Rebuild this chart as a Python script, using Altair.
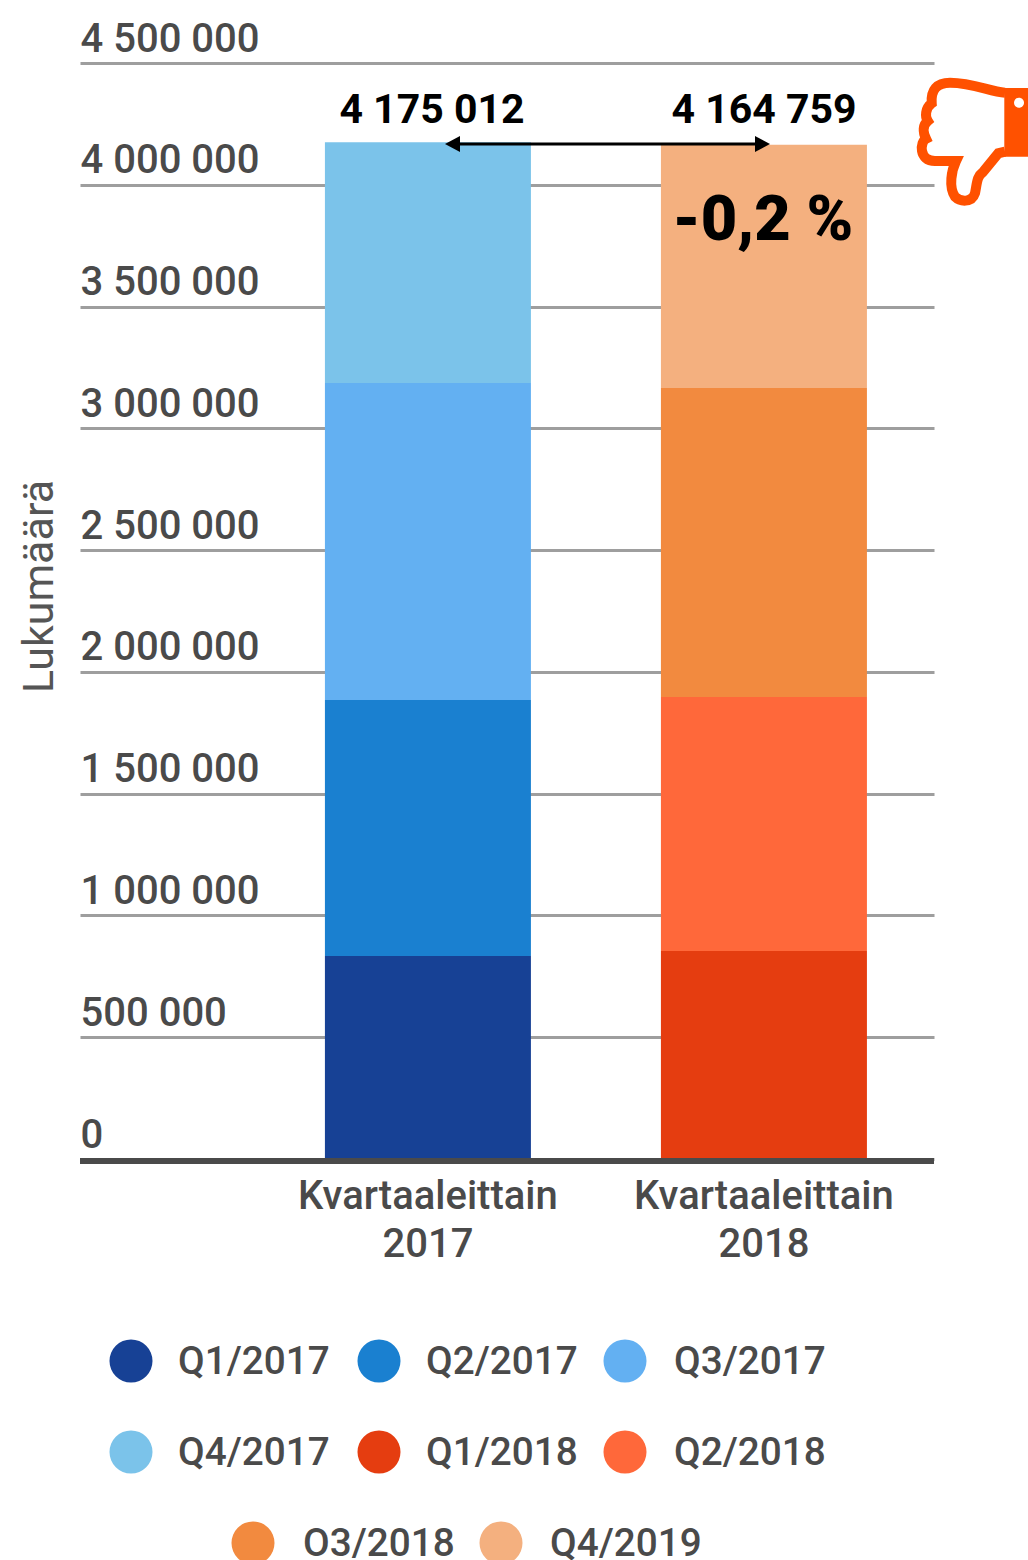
import altair as alt
import pandas as pd

# ---- data ----
categories = ["Kvartaaleittain 2017", "Kvartaaleittain 2018"]
series_2017 = ["Q1/2017", "Q2/2017", "Q3/2017", "Q4/2017"]
series_2018 = ["Q1/2018", "Q2/2018", "Q3/2018", "Q4/2019"]
values_2017 = [833500, 1051000, 1301500, 989012]
values_2018 = [854000, 1043000, 1268600, 999159]
totals = [4175012, 4164759]
total_labels = ["4 175 012", "4 164 759"]
tick_values = [0, 500000, 1000000, 1500000, 2000000, 2500000, 3000000, 3500000, 4000000, 4500000]
change_label = "-0,2 %"
y_title = "Lukumäärä"

# ---- style ----
colors_2017 = ["#174195", "#1a80d0", "#63b0f2", "#7bc3ea"]
colors_2018 = ["#e53d10", "#ff683a", "#f28a3f", "#f4b07f"]
INK = "#4a4a4a"
GRID = "#9e9e9e"
ORANGE = "#ff5100"
FONT = "Roboto"
OX, OY = 80, 63  # plot origin on the page

rows = []
for cat, names, vals in ((categories[0], series_2017, values_2017),
                         (categories[1], series_2018, values_2018)):
    for i, (n, v) in enumerate(zip(names, vals)):
        rows.append({"cat": cat, "series": n, "value": v, "order": i})
df = pd.DataFrame(rows)

y_scale = alt.Scale(domain=[0, 4500000], nice=False, zero=True)
x_scale = alt.Scale(domain=categories, paddingInner=0.387, paddingOuter=0.4643, align=0.785)

x_axis = alt.Axis(
    title=None, domain=False, ticks=False, labelAngle=0, labelFont=FONT,
    labelFontSize=40, labelFontWeight=500, labelColor=INK, labelPadding=17,
    labelLimit=500, labelLineHeight=48, labelExpr="split(datum.label, ' ')",
    labelOverlap=False)
y_axis = alt.Axis(
    values=tick_values, title=y_title, titleFont=FONT, titleFontSize=43,
    titleFontWeight=400, titleColor="#555555", titleX=-41, titleY=523,
    titleAlign="center", titleBaseline="middle", titleAngle=-90,
    domain=False, ticks=False, tickSize=0, labelPadding=0, labelAlign="left",
    labelBaseline="alphabetic", labelOffset=-12, labelFont=FONT,
    labelFontSize=40, labelFontWeight=500, labelColor=INK, labelOverlap=False,
    labelLimit=500, labelExpr="replace(format(datum.value, ','), /,/g, ' ')",
    grid=True, gridColor=GRID, gridWidth=3)

X = alt.X("cat:N", scale=x_scale, sort=categories, axis=x_axis)

bars = alt.Chart(df).mark_bar(size=206).encode(
    x=X,
    y=alt.Y("value:Q", stack="zero", scale=y_scale, axis=y_axis),
    color=alt.Color("series:N", legend=None, scale=alt.Scale(
        domain=series_2017 + series_2018, range=colors_2017 + colors_2018)),
    order=alt.Order("order:Q"),
)

one = pd.DataFrame({"a": [0]})


def val(v):
    return alt.value(v)


baseline = alt.Chart(one).mark_rule(color=INK, strokeWidth=6).encode(
    x=val(0), x2=val(854), y=val(1161 - OY))

totals_df = pd.DataFrame({"cat": categories, "total": totals, "label": total_labels})
Y_TOTAL = alt.Y("total:Q", scale=y_scale, axis=y_axis)
total_text = alt.layer(*[
    alt.Chart(totals_df[totals_df.cat == c]).mark_text(
        font=FONT, fontSize=41, fontWeight=700, color="black",
        baseline="alphabetic", dx=dx, dy=dy
    ).encode(x=X, y=Y_TOTAL, text="label:N")
    for c, dx, dy in zip(categories, [4, 0], [-19, -22])
])

change = alt.Chart(totals_df[totals_df.cat == categories[1]]).transform_calculate(
    t=f"'{change_label}'"
).mark_text(font=FONT, fontSize=63, fontWeight=900, color="black",
            baseline="alphabetic", dx=-1, dy=95).encode(x=X, y=Y_TOTAL, text="t:N")

AY = 144 - OY
arrow_line = alt.Chart(one).mark_rule(color="black", strokeWidth=3).encode(
    x=val(453 - OX), x2=val(762 - OX), y=val(AY))
arrow_l = alt.Chart(one).mark_point(
    shape="M-8,0L7,-8L7,8Z", size=4, filled=True, fill="black", stroke=None, opacity=1
).encode(x=val(453 - OX), y=val(AY))
arrow_r = alt.Chart(one).mark_point(
    shape="M8,0L-7,-8L-7,8Z", size=4, filled=True, fill="black", stroke=None, opacity=1
).encode(x=val(762 - OX), y=val(AY))

# thumbs-down icon: path in page pixels relative to (880, 60)
P = lambda x, y: f"{x/3:.1f},{y/3:.1f}"
outline = ("M" + P(375, 98) + "C" + P(330, 95) + " " + P(280, 68) + " " + P(210, 68)
           + "C" + P(170, 68) + " " + P(152, 90) + " " + P(155, 130)
           + "C" + P(135, 145) + " " + P(135, 170) + " " + P(143, 183)
           + "C" + P(128, 195) + " " + P(128, 215) + " " + P(138, 236)
           + "C" + P(120, 245) + " " + P(115, 303) + " " + P(165, 303)
           + "L" + P(228, 303)
           + "C" + P(215, 330) + " " + P(205, 380) + " " + P(225, 410)
           + "C" + P(240, 425) + " " + P(275, 430) + " " + P(285, 400)
           + "C" + P(292, 365) + " " + P(290, 350) + " " + P(310, 335)
           + "L" + P(355, 280) + "L" + P(375, 275))
cuff = ("M" + P(373, 84) + "L" + P(444, 84) + "L" + P(444, 290) + "L" + P(373, 290) + "Z")
hole = ("M" + P(402, 128) + "A5,5 0 1 1 " + P(432, 128) + "A5,5 0 1 1 " + P(402, 128) + "Z")

ix, iy = val(880 - OX), val(60 - OY)
icon = [
    alt.Chart(one).mark_point(shape=outline, size=4, fill="white", stroke=ORANGE,
                              strokeWidth=10, opacity=1, filled=False, fillOpacity=1).encode(x=ix, y=iy),
    alt.Chart(one).mark_point(shape=cuff, size=4, filled=True, fill=ORANGE, stroke=None,
                              opacity=1).encode(x=ix, y=iy),
    alt.Chart(one).mark_point(shape=hole, size=4, filled=True, fill="white", stroke=None,
                              opacity=1).encode(x=ix, y=iy),
]

# hand-placed legend (last row is centred)
legend_rows = [
    ("Q1/2017", colors_2017[0], 131, 178, 1361), ("Q2/2017", colors_2017[1], 379, 426, 1361),
    ("Q3/2017", colors_2017[2], 625, 674, 1361), ("Q4/2017", colors_2017[3], 131, 178, 1452),
    ("Q1/2018", colors_2018[0], 379, 426, 1452), ("Q2/2018", colors_2018[1], 625, 674, 1452),
    ("O3/2018", colors_2018[2], 253, 303, 1543), ("Q4/2019", colors_2018[3], 501, 550, 1543),
]
legend = []
for name, col, cx, tx, cy in legend_rows:
    legend.append(alt.Chart(one).mark_point(
        shape="circle", size=1850, filled=True, fill=col, stroke=None, opacity=1
    ).encode(x=val(cx - OX), y=val(cy - OY)))
    legend.append(alt.Chart(one).mark_text(
        text=name, font=FONT, fontSize=38.7, fontWeight=500, color=INK,
        align="left", baseline="middle", dy=1
    ).encode(x=val(tx - OX), y=val(cy - OY)))

chart = alt.layer(
    bars, baseline, total_text, change, arrow_line, arrow_l, arrow_r, *icon, *legend
).properties(
    width=854, height=1096,
    autosize=alt.AutoSizeParams(type="none"),
    padding={"left": OX, "top": OY, "right": 94, "bottom": 401},
).configure_view(stroke=None)

chart.save("out.html", embed_options={
    "renderer": "svg", "actions": False,
    "defaultStyle": "body{margin:0!important}"})
